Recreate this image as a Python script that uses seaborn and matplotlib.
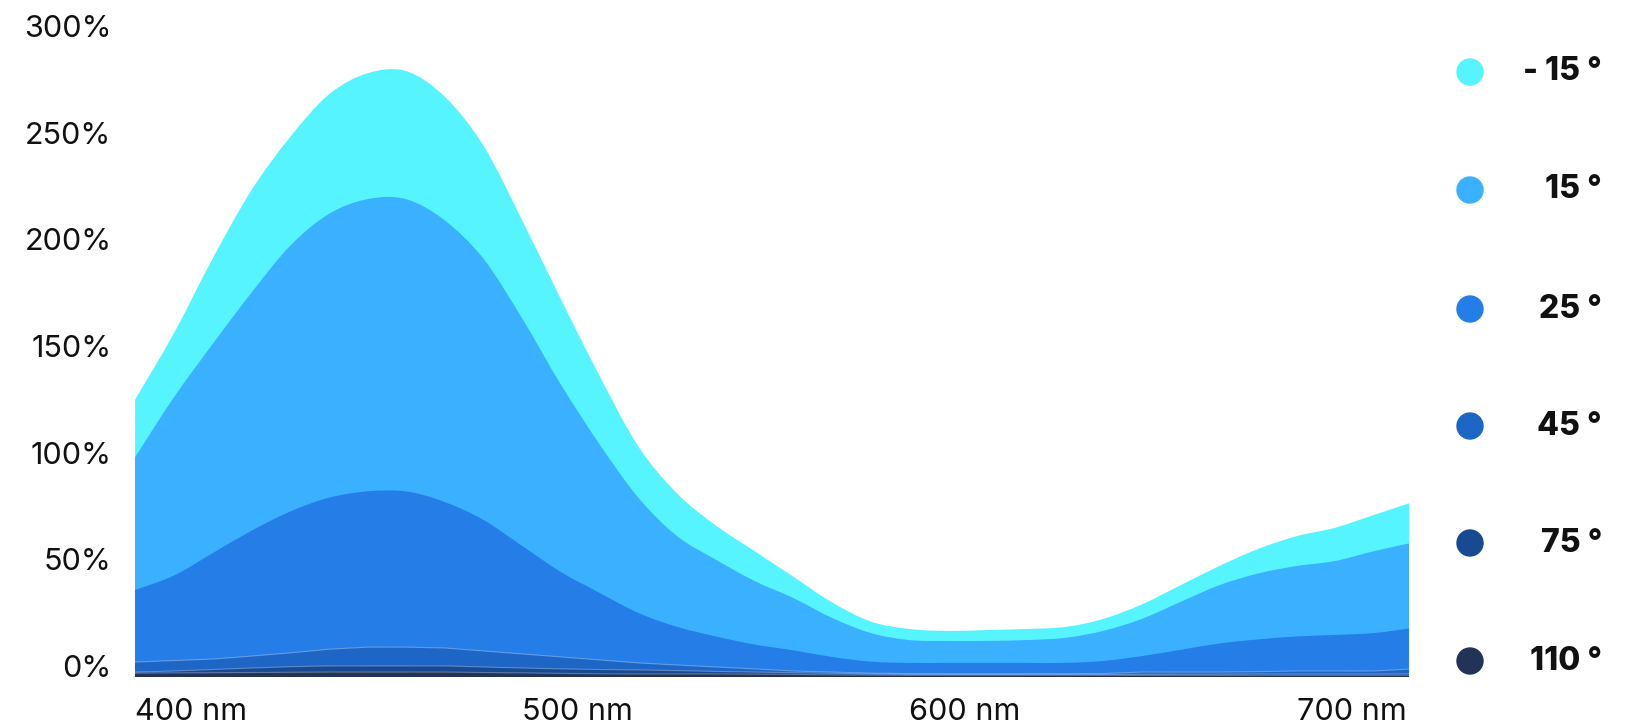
import numpy as np
import pandas as pd
import matplotlib
matplotlib.use('Agg')
import matplotlib.pyplot as plt
import matplotlib.transforms as mtransforms
from matplotlib.patches import Ellipse, PathPatch
from matplotlib.path import Path
import seaborn as sns

# dados (reflectância em % por comprimento de onda)
comprimentos = [400, 410, 420, 430, 440, 450, 460, 470, 480, 490, 500, 510, 520,
                530, 540, 550, 560, 570, 580, 590, 600, 610, 620, 630, 640, 650,
                660, 670, 680, 690, 700, 710, 720, 730]

ang_m15 = [130, 161, 196, 228, 253, 273, 283, 284, 272, 249, 214, 177, 141,
           108, 86, 71, 59, 47, 35, 26, 22.5, 21.6, 22, 22.5, 23.4, 27.2,
           34, 43, 52, 60, 66, 70, 76, 82]
ang_15 = [103, 131, 156, 180, 202, 217, 224, 224, 214, 196, 168, 137, 109,
          84, 66, 55, 45, 37, 27.7, 20.6, 17.3, 16.9, 16.9, 17.3, 18.3, 21.6,
          27.2, 35.2, 43, 48.5, 52, 54.4, 59, 63]
ang_25 = [40.8, 47.5, 58, 68.5, 77.5, 84, 87, 87, 82, 73.6, 61.4, 49.2, 39.4,
          30, 23.5, 19, 15.2, 12.5, 9.4, 7.2, 6.6, 6.6, 6.6, 6.6, 6.6, 7.5,
          9.8, 12.7, 15.7, 17.6, 19, 19.7, 20.6, 23]
ang_45 = [7, 7.7, 8.4, 9.8, 11.3, 13, 14, 14, 13.6, 12.2, 10.8, 9.4, 8,
          6.6, 5.6, 4.7, 3.8, 2.8, 2.3, 1.8, 1.6, 1.6, 1.6, 1.6, 1.6, 1.6,
          2.3, 2.3, 2.3, 2.5, 2.8, 2.8, 2.8, 3.8]
ang_75 = [2.3, 2.8, 3.5, 4.2, 4.8, 5.2, 5.2, 5.2, 5.2, 4.7, 4.2, 3.8, 3.5,
          3.3, 3, 2.6, 2.3, 2, 1.7, 1.4, 1.2, 1.2, 1.2, 1.2, 1.2, 1.2,
          1.2, 1.3, 1.3, 1.4, 1.4, 1.4, 1.4, 1.5]
ang_110 = [1.8, 1.9, 2, 2.1, 2.2, 2.3, 2.3, 2.3, 2.3, 2.1, 1.9, 1.7, 1.5,
           1.4, 1.4, 1.4, 1.3, 1.2, 1.0, 0.9, 0.8, 0.8, 0.8, 0.8, 0.8, 0.8,
           0.8, 0.8, 0.8, 0.8, 0.8, 0.8, 0.8, 0.8]

rotulos = ['- 15 °', '15 °', '25 °', '45 °', '75 °', '110 °']
cores = ['#56F4FF', '#3AB0FF', '#257DE8', '#1E66C6', '#174A93', '#223357']
series = [ang_m15, ang_15, ang_25, ang_45, ang_75, ang_110]

yticks = [0, 50, 100, 150, 200, 250, 300]
xticks = [400, 500, 600, 700]

df = pd.concat([pd.DataFrame({'nm': comprimentos, 'valor': s, 'angulo': r})
                for s, r in zip(series, rotulos)], ignore_index=True)


def area_suave(x, y):
    # curva suave (bezier cúbica tipo catmull-rom) passando pelos pontos lidos
    x = np.asarray(x, float)
    y = np.asarray(y, float)
    p = np.column_stack([x, y])
    ext = np.vstack([p[0], p, p[-1]])
    verts = [(x[0], 0), tuple(p[0])]
    codes = [Path.MOVETO, Path.LINETO]
    for i in range(len(p) - 1):
        c1 = ext[i + 1] + (ext[i + 2] - ext[i]) / 6
        c2 = ext[i + 2] - (ext[i + 3] - ext[i + 1]) / 6
        verts += [tuple(c1), tuple(c2), tuple(p[i + 1])]
        codes += [Path.CURVE4] * 3
    verts += [(x[-1], 0), (x[0], 0)]
    codes += [Path.LINETO, Path.CLOSEPOLY]
    return Path(verts, codes)


sns.set_theme(style='white')
plt.rcParams['font.family'] = ['Inter', 'DejaVu Sans']
paleta = sns.color_palette(cores)

fig = plt.figure(figsize=(16.37, 7.26), dpi=100)
ax = fig.add_axes([0.0825, 0.0675, 0.7782, 0.8815])

# áreas sobrepostas, a partir de zero
for r, c in zip(rotulos, paleta):
    d = df[df['angulo'] == r]
    ax.add_patch(PathPatch(area_suave(d['nm'], d['valor']), facecolor=c,
                           edgecolor='none', zorder=2))
# contornos claros das séries de baixo
sns.lineplot(data=df[df['angulo'].isin(rotulos[3:])], x='nm', y='valor',
             hue='angulo', palette=['white'] * 3, hue_order=rotulos[3:],
             linewidth=0.8, alpha=0.3, legend=False, ax=ax, zorder=4)

ax.set_xlim(400, 729)
ax.set_ylim(0, 300)
ax.set_xticks(xticks)
ax.set_xticklabels([f'{t} nm' for t in xticks])
ax.set_yticks(yticks)
ax.set_yticklabels([f'{t}%' for t in yticks])
ax.set_xlabel('')
ax.set_ylabel('')
ax.tick_params(axis='both', length=0, labelsize=22, colors='#111111')
ax.tick_params(axis='y', pad=17)
ax.tick_params(axis='x', pad=15)
for s in ax.spines.values():
    s.set_visible(False)

# deslocar os rótulos como no original
off_y = mtransforms.ScaledTranslation(0, 11 / 100, fig.dpi_scale_trans)
for lbl in ax.get_yticklabels():
    lbl.set_transform(lbl.get_transform() + off_y)
for lbl in ax.get_xticklabels():
    lbl.set_horizontalalignment('left')

# legenda manual à direita
leg_y = [72, 190, 309, 426, 543, 661]
for r, c, yy in zip(rotulos, paleta, leg_y):
    yf = 1 - yy / 726
    fig.add_artist(Ellipse((1470 / 1637, yf), 26 / 1637, 26 / 726,
                           transform=fig.transFigure, color=c))
    fig.text(1602 / 1637, yf, r, ha='right', va='center', fontsize=23,
             fontweight='heavy', color='#111111')

plt.savefig('out.png', dpi=100)
